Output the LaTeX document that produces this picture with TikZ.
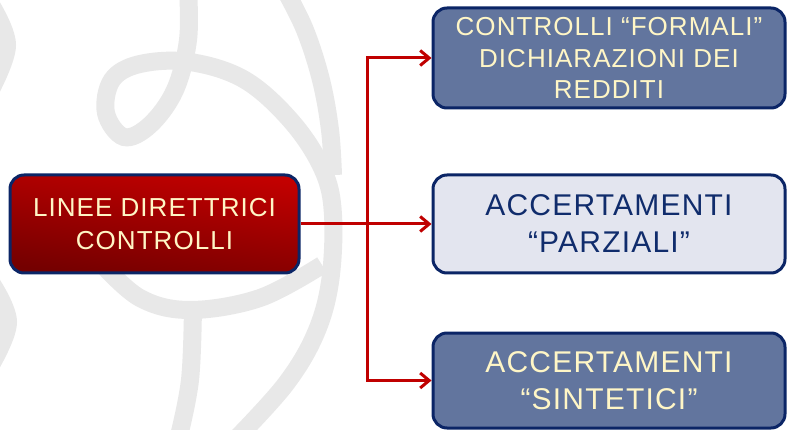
\documentclass[tikz,border=0pt]{standalone}
\usepackage{fontspec}
\setmainfont{Liberation Sans}
\newfontfamily\boxfont[LetterSpace=4]{Liberation Sans}
\usetikzlibrary{arrows.meta}
\definecolor{navy}{HTML}{0B2566}
\definecolor{darkred}{HTML}{740000}
\definecolor{brightred}{HTML}{C20000}
\definecolor{cream}{HTML}{FFF6C6}
\definecolor{bluefill}{HTML}{62759E}
\definecolor{lightfill}{HTML}{E3E5EF}
\definecolor{textnavy}{HTML}{102C6C}
\definecolor{wm}{HTML}{E8E8E8}
\definecolor{arrred}{HTML}{C00000}
\tikzset{
  box/.style={draw=navy, line width=3pt, rounded corners=14pt, align=center, inner sep=0pt},
  redbox/.style={box, top color=brightred, bottom color=darkred, shading angle=-8, text=cream,
     font=\boxfont\fontsize{26}{33}\selectfont},
  bluebox/.style={box, fill=bluefill, text=cream},
  lightbox/.style={box, fill=lightfill, text=textnavy},
  arr/.style={draw=arrred, line width=3pt, -{Straight Barb[length=9pt,width=15pt,line width=3pt]}},
  wmline/.style={draw=wm, line width=18pt}
}
\begin{document}
\begin{tikzpicture}[x=1pt,y=-1pt]
\useasboundingbox (0,0) rectangle (787,430);
\fill[white] (0,0) rectangle (787,430);
% watermark
\begin{scope}
\clip (0,0) rectangle (787,430);
\draw[wmline] plot[smooth, tension=0.6] coordinates {(188,-10) (188,40) (175,90) (150,125) (124,137) (106,113) (112,80) (140,64) (190,62) (245,80) (292,122) (323,170) (333,215) (330,282) (315,335) (285,385) (235,440)};
\draw[wmline] plot[smooth, tension=0.6] coordinates {(285,-10) (305,30) (321,80) (330,130) (333,175)};
\draw[wmline] plot[smooth, tension=0.6] coordinates {(100,262) (140,298) (190,310) (260,298) (322,265)};
\draw[wmline] plot[smooth, tension=0.6] coordinates {(193,305) (190,380) (178,440)};
\draw[wmline] plot[smooth, tension=0.6] coordinates {(-12,0) (7,45) (-12,95)};
\draw[wmline] plot[smooth, tension=0.6] coordinates {(-12,278) (8,322) (-12,370)};
\end{scope}
% boxes
\node[redbox, minimum width=289pt, minimum height=98pt] (lin) at (154.5,224) {LINEE DIRETTRICI\\CONTROLLI};
\node[bluebox, minimum width=352pt, minimum height=100pt, font=\boxfont\fontsize{26}{31.5}\selectfont] (form) at (609,58) {CONTROLLI “FORMALI”\\DICHIARAZIONI DEI\\REDDITI};
\node[lightbox, minimum width=352pt, minimum height=98pt, font=\boxfont\fontsize{30}{37}\selectfont] (parz) at (609,224) {ACCERTAMENTI\\“PARZIALI”};
\node[bluebox, minimum width=352pt, minimum height=95pt, font=\boxfont\fontsize{30}{37}\selectfont] (sint) at (609,380.5) {ACCERTAMENTI\\“SINTETICI”};
% connectors
\coordinate (j) at (367,224);
\draw[arr] (lin.east) -- (parz.west);
\draw[arr] (j) |- (form.west);
\draw[arr] (j) |- (sint.west);
\end{tikzpicture}
\end{document}
